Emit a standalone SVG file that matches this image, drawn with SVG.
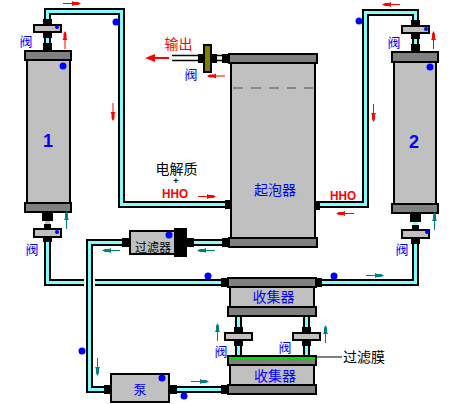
<svg xmlns="http://www.w3.org/2000/svg" width="451" height="404" viewBox="0 0 451 404">
<style>
text{font-family:"Noto Sans CJK SC","Noto Sans",sans-serif;text-anchor:middle}
.b{fill:#c0c0c0;stroke:#000;stroke-width:2}
.c{fill:#808080;stroke:#000;stroke-width:2}
.k{fill:#000}
.po{fill:none;stroke:#000;stroke-width:7}
.pi{fill:none;stroke:#80ffff;stroke-width:3}
.d{fill:#00f}
.bl{fill:#00f;font-size:13px}
.bk{fill:#000;font-size:13px}
.hho{fill:#f00;font:bold 13px "Liberation Sans",sans-serif}
.num{fill:#00f;font:bold 18px "Liberation Sans",sans-serif}
.red{color:#f00}
.teal{color:#008080}
</style>
<defs>
<g id="a"><path d="M0 0H17" stroke="currentColor" stroke-width="1" fill="none"/><path d="M9 -2.500L11 -1.500H15L18 0L15 1.500H11L9 2.500Z" fill="currentColor"/></g>
</defs>

<g id="connectors">
<path class="po" d="M47.500 45V11.500H121.500V204.500H225"/><path class="pi" d="M47.500 45V11.500H121.500V204.500H225"/>
<path class="po" d="M320 204.500H365.500V12.500H415.500V45"/><path class="pi" d="M320 204.500H365.500V12.500H415.500V45"/>
<path class="po" d="M47.500 240V282.500H222"/><path class="pi" d="M47.500 240V282.500H222"/>
<rect x="84" y="278" width="11" height="9" fill="#fff"/>
<path class="po" d="M223 242.500H194"/><path class="pi" d="M223 242.500H194"/>
<path class="po" d="M123 242.500H89.500V389.500H105"/><path class="pi" d="M123 242.500H89.500V389.500H105"/>
<path class="po" d="M176 389.500H222"/><path class="pi" d="M176 389.500H222"/>
<path class="po" d="M321 282.500H415.500V243"/><path class="pi" d="M321 282.500H415.500V243"/>
<path class="po" d="M238.500 316V355M306.500 316V355"/><path class="pi" d="M238.500 316V355M306.500 316V355"/>
<path d="M172 55.500H198M172 60.500H198M217 55.500H223M217 60.500H223" stroke="#000" stroke-width="1.500" fill="none"/>
<path d="M315 357H342" stroke="#000" stroke-width="1" fill="none"/>
</g>

<g id="column1">
<rect class="b" x="27" y="55" width="43" height="150"/>
<rect class="c" x="25" y="51" width="46" height="9"/>
<rect class="c" x="25" y="203" width="46" height="9"/>
<text class="num" x="48" y="147">1</text>
<circle class="d" cx="63" cy="66" r="3.500"/>
</g>
<g id="valve1top">
<rect class="k" x="43" y="19" width="9" height="5"/><rect class="k" x="43" y="33" width="9" height="5"/><rect class="k" x="43" y="43" width="9" height="7"/>
<rect class="b" x="34" y="25" width="27" height="7"/><circle class="d" cx="57" cy="27" r="2"/>
<text class="bl" x="26" y="46">阀</text>
</g>
<g id="valve1bottom">
<rect class="k" x="42" y="213" width="11" height="8"/><rect x="45" y="221" width="5" height="3" fill="#c0c0c0"/><rect class="k" x="44" y="224" width="7" height="4"/><rect class="k" x="43" y="238" width="9" height="4"/>
<rect class="b" x="34" y="229" width="27" height="8"/><circle class="d" cx="57" cy="232" r="2"/>
<text class="bl" x="32" y="254">阀</text>
</g>

<g id="column2">
<rect class="b" x="394" y="55" width="42" height="150"/>
<rect class="c" x="392" y="52" width="46" height="10"/>
<rect class="c" x="392" y="204" width="46" height="9"/>
<text class="num" x="414" y="148">2</text>
<circle class="d" cx="430" cy="67" r="3.500"/>
</g>
<g id="valve2top">
<rect class="k" x="411" y="20" width="9" height="5"/><rect class="k" x="411" y="34" width="9" height="5"/><rect class="k" x="411" y="44" width="9" height="7"/>
<rect class="b" x="402" y="26" width="27" height="7"/><circle class="d" cx="426" cy="29" r="2"/>
<text class="bl" x="394" y="47">阀</text>
</g>
<g id="valve2bottom">
<rect class="k" x="410" y="214" width="11" height="8"/><rect x="413" y="222" width="5" height="3" fill="#80ffff"/><rect class="k" x="412" y="225" width="7" height="4"/><rect class="k" x="411" y="239" width="9" height="5"/>
<rect class="b" x="402" y="230" width="27" height="8"/><circle class="d" cx="427" cy="232" r="2"/>
<text class="bl" x="402" y="254">阀</text>
</g>

<g id="bubbler">
<rect class="k" x="225" y="54" width="4" height="9"/><rect class="k" x="225" y="200" width="6" height="9"/><rect class="k" x="222" y="238" width="7" height="9"/><rect class="k" x="315" y="201" width="5" height="9"/>
<rect class="b" x="231" y="60" width="84" height="180"/>
<rect class="c" x="229" y="54" width="88" height="9"/>
<rect class="c" x="229" y="238" width="88" height="9"/>
<path d="M233 88H243M251 88H261M269 88H279M287 88H296M304 88H313" stroke="#888" stroke-width="2" fill="none"/>
<text x="275" y="195" style="fill:#00f;font-size:14px">起泡器</text>
</g>

<g id="outputValve">
<rect class="k" x="198" y="54" width="19" height="9"/>
<rect x="204" y="45" width="7" height="27" fill="#808000" stroke="#000" stroke-width="2"/>
<rect class="k" x="222" y="54" width="4" height="9"/>
<text x="178.500" y="49" style="fill:#f00;font-size:14px">输出</text>
<text class="bl" x="191" y="79">阀</text>
<path d="M169 58H153" stroke="#f00" stroke-width="2"/><path d="M155 54L145 58L155 62Z" fill="#f00"/>
</g>

<g id="filter">
<rect class="k" x="122" y="238" width="8" height="9"/><rect class="k" x="187" y="238" width="7" height="9"/>
<rect class="b" x="130" y="231" width="46" height="23"/>
<rect class="k" x="174" y="228" width="13" height="29"/>
<circle class="d" cx="169" cy="235" r="3.500"/>
<text class="bk" x="153" y="252" style="font-size:12px">过滤器</text>
</g>

<g id="pump">
<rect class="k" x="104" y="385" width="7" height="9"/><rect class="k" x="169" y="385" width="8" height="9"/>
<rect class="b" x="111" y="374" width="58" height="28"/>
<circle class="d" cx="162" cy="378" r="3.500"/>
<text class="bl" x="140" y="394">泵</text>
</g>

<g id="collectorTop">
<rect class="k" x="221" y="278" width="7" height="9"/><rect class="k" x="316" y="278" width="6" height="9"/>
<rect class="b" x="230" y="286" width="84" height="22"/>
<rect class="c" x="228" y="278" width="88" height="9"/>
<rect class="c" x="228" y="307" width="88" height="9"/>
<text x="273.500" y="302" style="fill:#00f;font-size:14px">收集器</text>
</g>
<g id="collectorBottom">
<rect class="k" x="221" y="385" width="7" height="9"/>
<rect class="b" x="230" y="364" width="84" height="22"/>
<rect class="c" x="228" y="356" width="88" height="9"/>
<rect x="229" y="357" width="86" height="2" fill="#0d0"/>
<rect class="c" x="228" y="385" width="88" height="9"/>
<text x="275" y="381" style="fill:#00f;font-size:14px">收集器</text>
<text class="bk" x="364" y="362" style="font-size:14px">过滤膜</text>
</g>
<g id="valve3">
<rect class="k" x="234" y="327" width="9" height="5"/><rect class="k" x="234" y="341" width="9" height="5"/>
<rect class="b" x="225" y="333" width="27" height="7"/>
<text class="bl" x="221" y="356">阀</text>
</g>
<g id="valve4">
<rect class="k" x="302" y="327" width="9" height="5"/><rect class="k" x="302" y="341" width="9" height="5"/>
<rect class="b" x="293" y="333" width="27" height="7"/>
<text class="bl" x="285" y="352">阀</text>
</g>

<g id="labels">
<text class="bk" x="176.500" y="174" style="font-size:14px">电解质</text>
<text x="176" y="184" style="fill:#000;font:bold 9px 'Liberation Sans',sans-serif">+</text>
<text class="hho" x="175" y="198" textLength="26" lengthAdjust="spacingAndGlyphs">HHO</text>
<text class="hho" x="343" y="200" textLength="26" lengthAdjust="spacingAndGlyphs">HHO</text>
</g>

<g id="flowMarks">
<circle class="d" cx="116" cy="22" r="3.500"/><circle class="d" cx="359" cy="21" r="3.500"/>
<circle class="d" cx="208" cy="276" r="3.500"/><circle class="d" cx="334" cy="276" r="3.500"/>
<circle class="d" cx="82" cy="351" r="3.500"/><circle class="d" cx="184" cy="396" r="3.500"/>
<g class="red">
<use href="#a" transform="translate(63 3.500)"/>
<use href="#a" transform="translate(65 49) rotate(-90)"/>
<use href="#a" transform="translate(113 103) rotate(90)"/>
<use href="#a" transform="translate(225 76) rotate(180)"/>
<use href="#a" transform="translate(400 4.500) rotate(180)"/>
<use href="#a" transform="translate(433.500 49) rotate(-90)"/>
<use href="#a" transform="translate(373.500 104) rotate(90)"/>
<use href="#a" transform="translate(198 196.500)"/>
<use href="#a" transform="translate(354 213.500) rotate(180)"/>
</g>
<g class="teal">
<use href="#a" transform="translate(66.500 229) rotate(-90)"/>
<use href="#a" transform="translate(120 250.500) rotate(180)"/>
<use href="#a" transform="translate(215 250.500) rotate(180)"/>
<use href="#a" transform="translate(434.500 230) rotate(-90)"/>
<use href="#a" transform="translate(97.500 358) rotate(90)"/>
<use href="#a" transform="translate(191 381.500)"/>
<use href="#a" transform="translate(217.500 341) rotate(-90)"/>
<use href="#a" transform="translate(325.500 343) rotate(-90)"/>
<use href="#a" transform="translate(366 275.500)"/>
</g>
</g>
</svg>
